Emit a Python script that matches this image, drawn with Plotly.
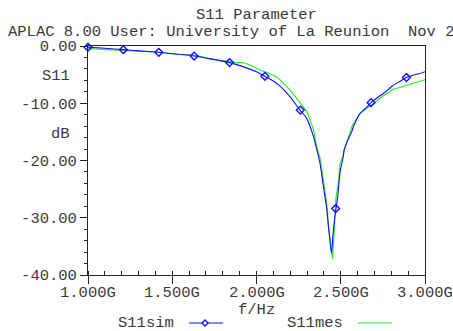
import plotly.graph_objects as go

# ---------------- data ----------------
sim_f = [1.00, 1.10, 1.21, 1.30, 1.42, 1.52, 1.63, 1.70, 1.77, 1.84, 1.92, 2.00, 2.05,
         2.10, 2.14, 2.20, 2.258, 2.297, 2.337, 2.357, 2.377, 2.397, 2.417, 2.427, 2.436,
         2.445, 2.454, 2.464, 2.472, 2.482, 2.496, 2.515, 2.52, 2.545, 2.565, 2.575,
         2.614, 2.65, 2.68, 2.733, 2.753, 2.81, 2.85, 2.89, 2.93, 2.97, 3.00]
sim_db = [-0.2, -0.4, -0.64, -0.85, -1.1, -1.4, -1.75, -2.1, -2.5, -2.9, -3.6, -4.5, -5.3,
          -6.1, -7.0, -8.9, -11.2, -12.6, -15.7, -18.0, -20.5, -24.5, -28.5, -31.5, -34.0,
          -36.2, -33.0, -30.0, -28.4, -26.3, -22.0, -19.3, -18.2, -16.2, -15.0, -14.1,
          -11.8, -10.8, -9.9, -8.7, -8.3, -6.9, -6.2, -5.5, -5.1, -4.8, -4.5]

sim_marker_f = [1.00, 1.21, 1.42, 1.63, 1.84, 2.05, 2.26, 2.47, 2.68, 2.89]
sim_marker_db = [-0.2, -0.64, -1.1, -1.75, -2.9, -5.3, -11.2, -28.4, -9.9, -5.5]

mes_f = [1.00, 1.10, 1.21, 1.30, 1.36, 1.42, 1.52, 1.58, 1.63, 1.72, 1.80, 1.84, 1.88,
         1.92, 1.97, 2.02, 2.07, 2.12, 2.14, 2.20, 2.26, 2.30, 2.337, 2.357, 2.377, 2.397,
         2.417, 2.427, 2.436, 2.445, 2.452, 2.458, 2.464, 2.472, 2.486, 2.496, 2.515, 2.52,
         2.555, 2.565, 2.575, 2.614, 2.65, 2.68, 2.733, 2.753, 2.81, 2.85, 2.89, 2.93,
         2.97, 3.00]
mes_db = [-0.45, -0.6, -0.75, -0.9, -0.95, -1.1, -1.45, -1.55, -1.6, -2.2, -2.6, -2.8, -2.9,
          -2.9, -3.4, -4.2, -4.7, -5.4, -5.9, -7.7, -9.9, -11.5, -14.5, -17.5, -19.5, -24.0,
          -27.5, -31.5, -33.5, -36.0, -37.3, -34.0, -30.0, -26.3, -24.0, -20.5, -19.0, -18.2,
          -15.2, -14.1, -13.6, -11.8, -11.0, -10.3, -9.0, -8.7, -7.6, -7.3, -6.9, -6.5,
          -6.1, -5.9]

x_tickvals = [1.0, 1.5, 2.0, 2.5, 3.0]
x_ticktext = ["1.000G", "1.500G", "2.000G", "2.500G", "3.000G"]
y_tickvals = [0, -10, -20, -30, -40]
y_ticktext = ["0.00", "-10.00", "-20.00", "-30.00", "-40.00"]

title = "S11 Parameter"
subtitle = "APLAC 8.00 User: University of La Reunion\u00a0\u00a0Nov 2"
sim_name = "S11sim"
mes_name = "S11mes"

# ---------------- style ----------------
FONT = "Liberation Mono, Courier New, monospace"
FS = 15.5
TXT = "#3a3a3a"
BLUE = "#1010ff"
GREEN = "#22ee22"
AX = "#222222"

L, R, T, B = 88, 28, 46, 56
W, H = 453, 331
PW, PH = W - L - R, H - T - B


def px(x):
    return (x - L) / PW


def py(y):
    return (H - B - y) / PH


fig = go.Figure()
fig.add_trace(go.Scatter(x=mes_f, y=mes_db, mode="lines", name=mes_name,
                         line=dict(color=GREEN, width=1.1), showlegend=False))
fig.add_trace(go.Scatter(x=sim_f, y=sim_db, mode="lines", name=sim_name,
                         line=dict(color=BLUE, width=1.1, shape="spline", smoothing=0.6),
                         showlegend=False))
fig.add_trace(go.Scatter(x=sim_marker_f, y=sim_marker_db, mode="markers", name=sim_name,
                         marker=dict(symbol="diamond-open", size=6, color=BLUE,
                                     line=dict(width=1.4, color=BLUE)),
                         showlegend=False, cliponaxis=False))

fig.update_layout(
    width=W, height=H,
    margin=dict(l=L, r=R, t=T, b=B, pad=0, autoexpand=False),
    paper_bgcolor="white", plot_bgcolor="white",
    font=dict(family=FONT, size=FS, color=TXT),
    showlegend=False,
)

fig.update_xaxes(
    range=[1.0, 3.0], tickvals=x_tickvals, ticktext=x_ticktext,
    showticklabels=False,
    automargin=False,
    showgrid=False, zeroline=False,
    showline=True, mirror=True, linecolor=AX, linewidth=1,
    ticks="outside", ticklen=8, tickcolor=AX, tickwidth=1,
    minor=dict(dtick=0.1, ticks="inside", ticklen=4, tickcolor=AX, tickwidth=1, showgrid=False),
)
fig.update_yaxes(
    range=[-40, 0], tickvals=y_tickvals, ticktext=y_ticktext,
    automargin=False,
    showgrid=False, zeroline=False,
    showline=True, mirror=True, linecolor=AX, linewidth=1,
    ticks="outside", ticklen=7, tickcolor=AX, tickwidth=1,
    minor=dict(dtick=2, ticks="outside", ticklen=3, tickcolor=AX, tickwidth=1, showgrid=False),
    tickfont=dict(family=FONT, size=FS, color=TXT),
)

# x tick labels placed from the tick arrays on the x data axis
for v, t in zip(x_tickvals, x_ticktext):
    fig.add_annotation(x=v, xref="x", y=py(293), yref="paper", text=t,
                       showarrow=False, xanchor="center", yanchor="middle",
                       font=dict(family=FONT, size=FS, color=TXT))

ann = [
    dict(text=title, x=0.5, y=py(15), xanchor="center", yanchor="middle"),
    dict(text=subtitle, x=px(6), y=py(32), xanchor="left", yanchor="middle"),
    dict(text="S11", x=px(72), y=py(76), xanchor="right", yanchor="middle"),
    dict(text="dB", x=px(72), y=py(134), xanchor="right", yanchor="middle"),
    dict(text="f/Hz", x=0.5, y=py(310), xanchor="center", yanchor="middle"),
    dict(text=sim_name, x=px(116), y=py(323), xanchor="left", yanchor="middle"),
    dict(text=mes_name, x=px(285), y=py(323), xanchor="left", yanchor="middle"),
]
for a in ann:
    fig.add_annotation(xref="paper", yref="paper", showarrow=False,
                       font=dict(family=FONT, size=FS, color=TXT), **a)

# legend samples
fig.add_shape(type="line", xref="paper", yref="paper",
              x0=px(189), x1=px(223), y0=py(323), y1=py(323),
              line=dict(color=BLUE, width=1.1))
fig.add_shape(type="path", xref="paper", yref="paper",
              xsizemode="pixel", ysizemode="pixel",
              xanchor=px(205), yanchor=py(323),
              path="M -3 0 L 0 3 L 3 0 L 0 -3 Z",
              line=dict(color=BLUE, width=1.4), fillcolor="white")
fig.add_shape(type="line", xref="paper", yref="paper",
              x0=px(358), x1=px(392), y0=py(323), y1=py(323),
              line=dict(color=GREEN, width=1.1))

fig.write_html("out.html")
